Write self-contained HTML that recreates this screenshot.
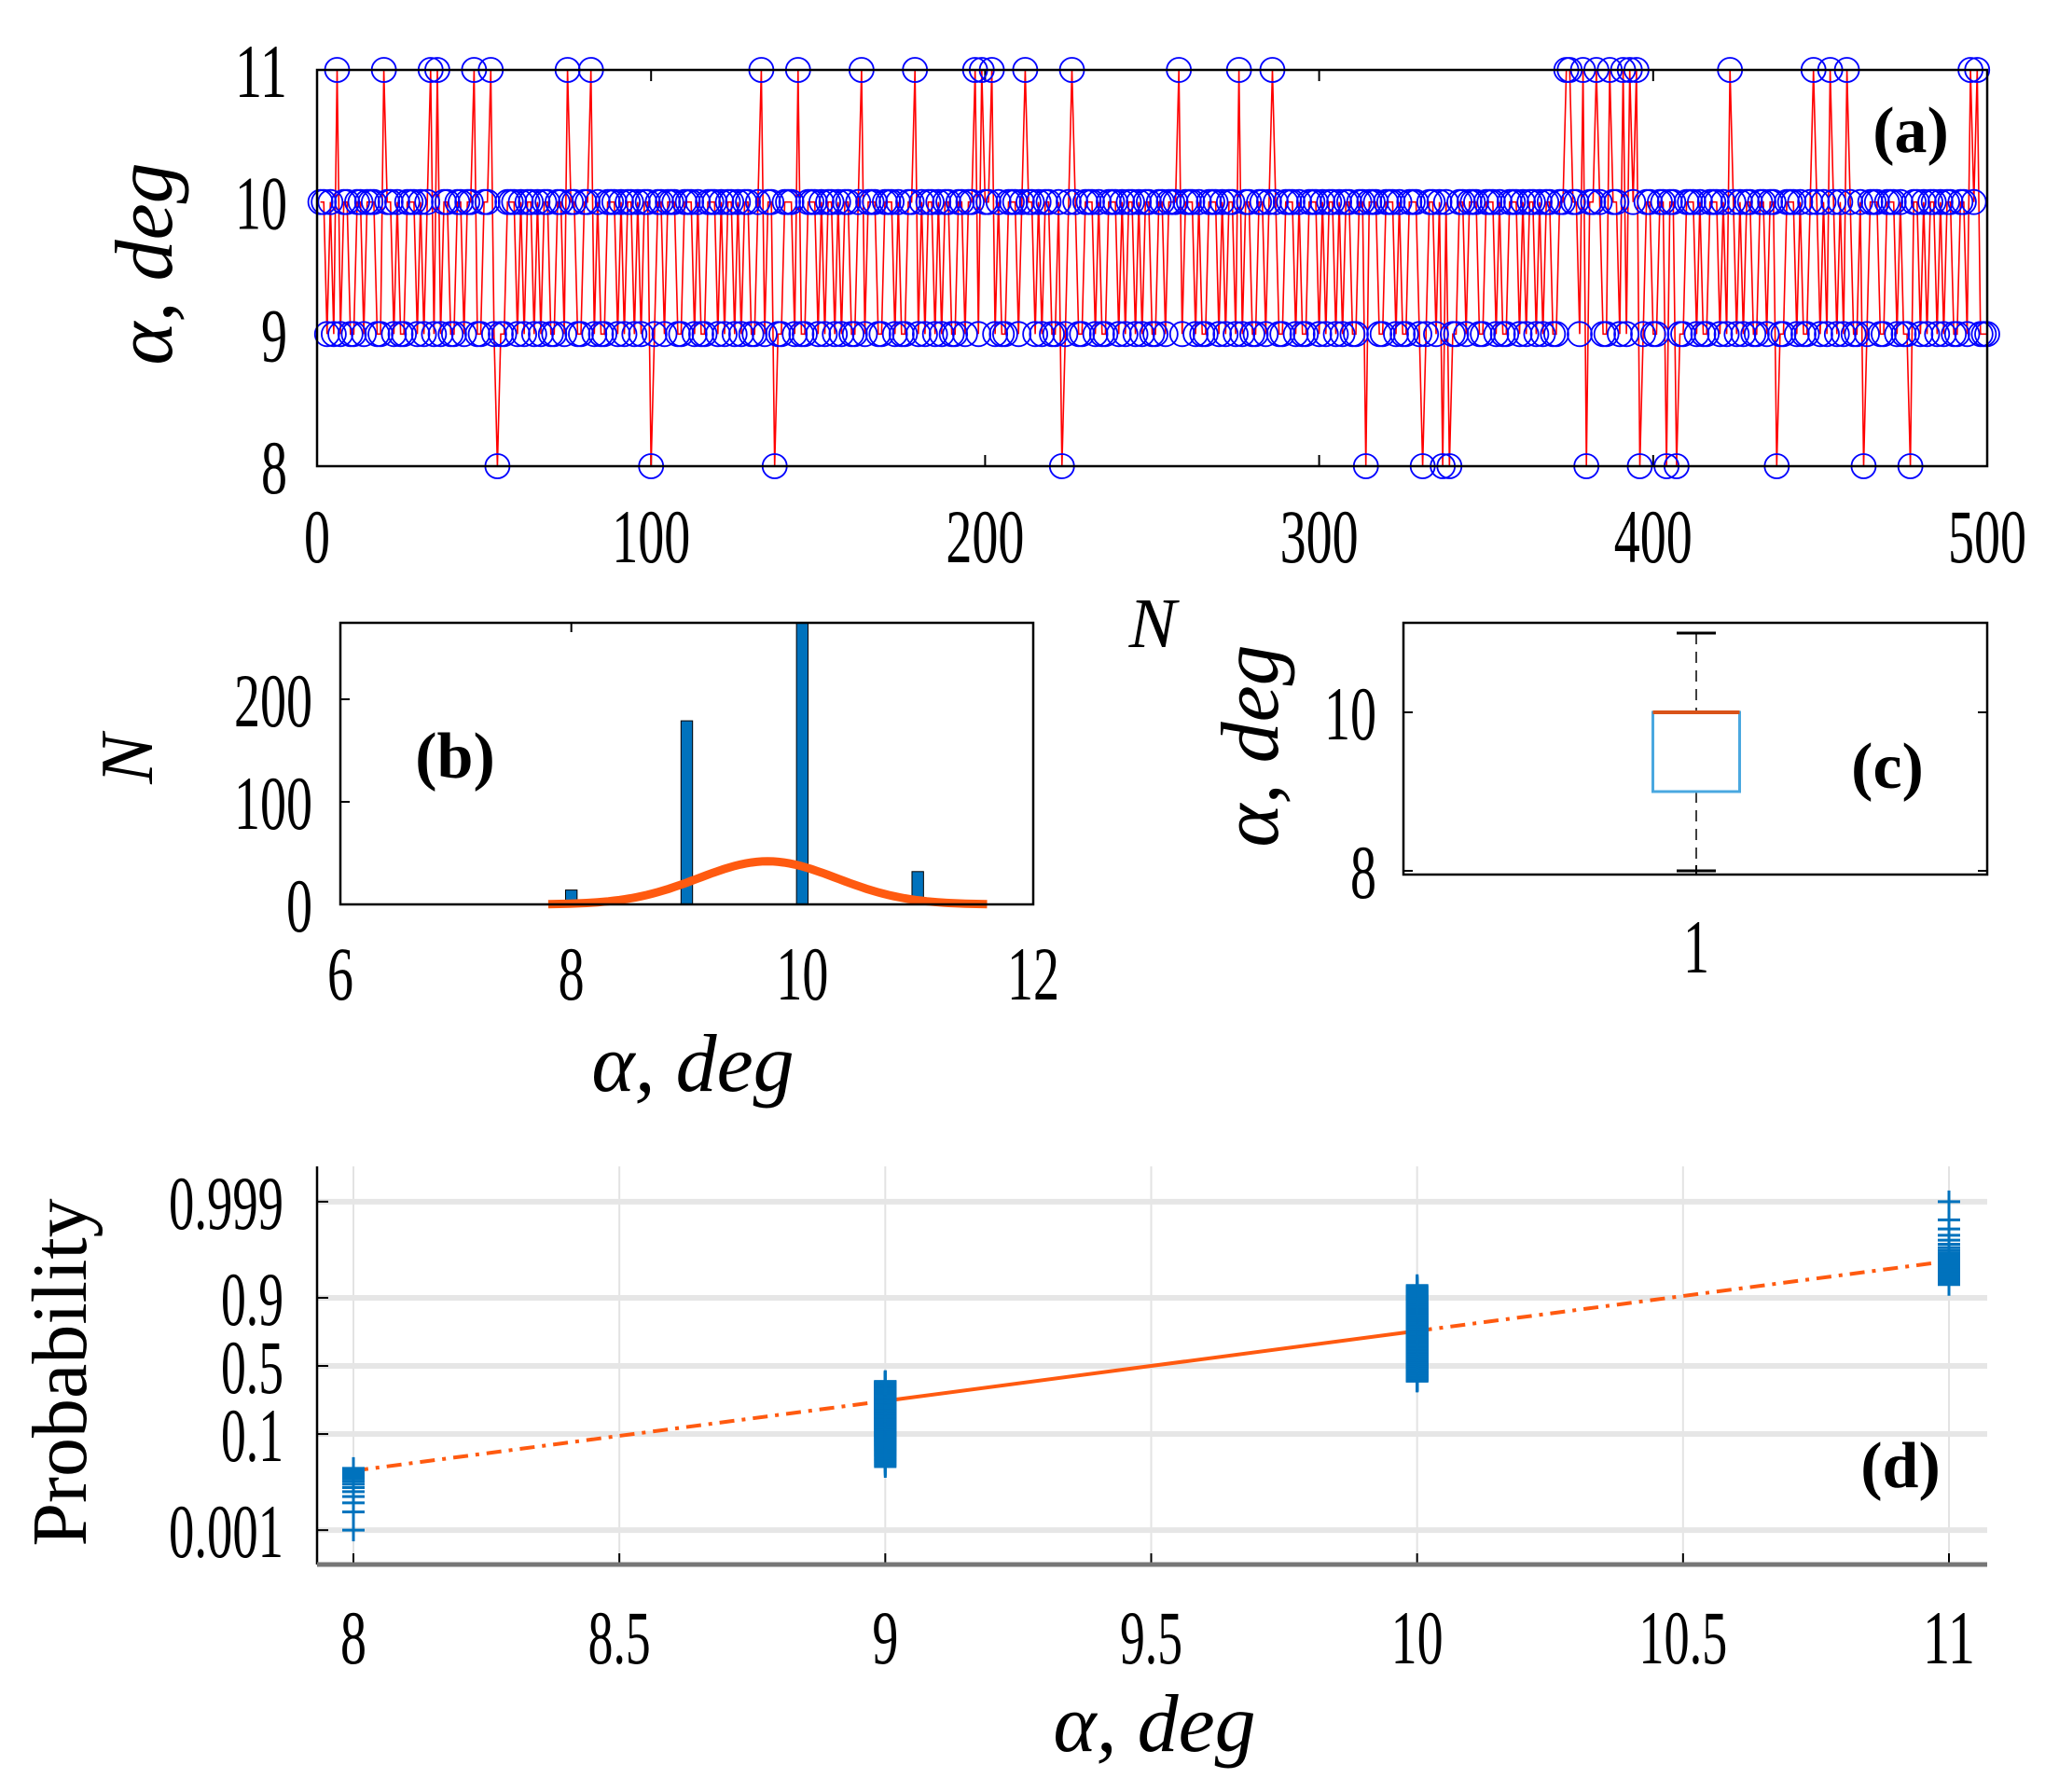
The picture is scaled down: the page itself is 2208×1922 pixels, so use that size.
<!DOCTYPE html>
<html><head><meta charset="utf-8"><style>
html,body{margin:0;padding:0;background:#fff;}
svg{display:block;}
text{font-family:"Liberation Serif",serif;fill:#000;}
</style></head><body>
<svg id="fig" width="2208" height="1922" viewBox="0 0 2208 1922" xmlns="http://www.w3.org/2000/svg"></svg>
<script>
// ---- Panel (a) data: alpha per trial N=1..500
const seriesA = [
10,10,9,10,9,11,9,10,10,9, 9,10,10,9,10,10,10,9,9,11, 10,10,9,10,9,9,10,10,10,9, 10,9,10,11,9,11,9,10,10,9, 9,10,10,9,10,10,11,9,9,10,
10,11,9,8,9,9,10,10,10,9, 10,9,10,10,9,10,9,10,10,9, 9,10,10,9,11,10,10,9,9,10, 10,11,9,10,9,9,10,10,10,9, 10,9,10,10,9,10,9,10,10,8,
9,10,10,9,10,10,10,9,9,10, 10,10,9,10,9,9,10,10,10,9, 10,9,10,10,9,10,9,10,10,9, 9,10,11,9,10,10,8,9,9,10, 10,10,9,11,9,9,10,10,10,9,
10,9,10,10,9,10,9,10,10,9, 9,10,11,9,10,10,10,9,9,10, 10,10,9,10,9,9,10,10,11,9, 10,9,10,10,9,10,9,10,10,9, 9,10,10,9,10,10,11,9,11,10,
10,11,9,10,9,9,10,10,10,9, 10,11,10,10,9,10,9,10,10,9, 9,10,8,9,10,11,10,9,9,10, 10,10,9,10,9,9,10,10,10,9, 10,9,10,10,9,10,9,10,10,9,
9,10,10,9,10,10,10,11,9,10, 10,10,9,10,9,9,10,10,10,9, 10,9,10,10,9,11,9,10,10,9, 9,10,10,9,10,11,10,9,9,10, 10,10,9,10,9,9,10,10,10,9,
10,9,10,10,9,10,9,10,10,9, 9,10,10,8,10,10,10,9,9,10, 10,10,9,10,9,9,10,10,10,9, 8,9,10,10,9,10,8,10,8,9, 9,10,10,9,10,10,10,9,9,10,
10,10,9,10,9,9,10,10,10,9, 10,9,10,10,9,10,9,10,10,9, 9,10,10,11,11,10,10,9,11,8, 10,10,11,10,9,9,11,10,10,9, 11,9,11,10,11,8,9,10,10,9,
9,10,10,8,10,10,8,9,9,10, 10,10,9,10,9,9,10,10,10,9, 10,9,11,10,9,10,9,10,10,9, 9,10,10,9,10,10,8,9,9,10, 10,10,9,10,9,9,10,11,10,9,
10,9,11,10,9,10,9,11,10,9, 9,10,8,9,10,10,10,9,9,10, 10,10,9,10,9,9,8,10,10,9, 10,9,10,10,9,10,9,10,10,9, 9,10,10,9,11,10,11,9,9,9];
const xTicksA = [0,100,200,300,400,500];
const yTicksA = [8,9,10,11];
// ---- Panel (b) histogram
const histBins = [8,9,10,11];
const histCounts = [14,179,275,32];
const xTicksB = [6,8,10,12];
const yTicksB = [0,100,200];
const fitMu = [9.7], fitSigma = [0.6], fitPeak = [42];
// ---- Panel (c) boxplot
const boxStats = [8,9,10,10,11]; // min, q1, median, q3, max
const yTicksC = [8,10];
// ---- Panel (d) probability plot
const probValues = [8,9,10,11];
const probCounts = [14,179,275,32];
const probTickLabels = ["0.001","0.1","0.5","0.9","0.999"];
const probTickP = [0.001,0.1,0.5,0.9,0.999];
const xTicksD = [8,8.5,9,9.5,10,10.5,11];
const fitLineMean = [9.5], fitLineSd = [0.76];

const FS=82, FOFF=29;
const NS="http://www.w3.org/2000/svg";
const svg=document.getElementById('fig');
function el(tag,attrs,parent){const e=document.createElementNS(NS,tag);for(const k in attrs)e.setAttribute(k,attrs[k]);(parent||svg).appendChild(e);return e;}
function txt(s,x,y,size,anchor,parent,opts){opts=opts||{};const t=el('text',{x:x,y:y,'font-size':size,'text-anchor':anchor||'middle'},parent);
 if(opts.italic)t.setAttribute('font-style','italic');if(opts.bold)t.setAttribute('font-weight','bold');
 if(opts.cond){let L=0;for(const c of s)L+=(c==='.'?11:(c===','?11:28));t.setAttribute('textLength',L*(opts.cond));t.setAttribute('lengthAdjust','spacingAndGlyphs');}
 if(opts.rot)t.setAttribute('transform','rotate(-90 '+x+' '+y+')');
 t.textContent=s;return t;}
function norminv(p){
 const a=[-39.6968302866538,220.946098424521,-275.928510446969,138.357751867269,-30.6647980661472,2.50662827745924];
 const b=[-54.4760987982241,161.585836858041,-155.698979859887,66.8013118877197,-13.2806815528857];
 const c=[-0.00778489400243029,-0.322396458041136,-2.40097507325209,-2.54973253934373,4.37466414146497,2.93816398269878];
 const d=[0.00778469570904146,0.32246712907004,2.445134137143,3.75440866190742];
 const pl=0.02425;let q,r;
 if(p<pl){q=Math.sqrt(-2*Math.log(p));return (((((c[0]*q+c[1])*q+c[2])*q+c[3])*q+c[4])*q+c[5])/((((d[0]*q+d[1])*q+d[2])*q+d[3])*q+1);}
 if(p>1-pl){q=Math.sqrt(-2*Math.log(1-p));return -(((((c[0]*q+c[1])*q+c[2])*q+c[3])*q+c[4])*q+c[5])/((((d[0]*q+d[1])*q+d[2])*q+d[3])*q+1);}
 q=p-0.5;r=q*q;return (((((a[0]*r+a[1])*r+a[2])*r+a[3])*r+a[4])*r+a[5])*q/(((((b[0]*r+b[1])*r+b[2])*r+b[3])*r+b[4])*r+1);}

// ================= Panel (a)
(function(){
 const g=el('g',{});
 
 
 const L=340,R=2131,T=75,B=500;
 const x=v=>L+(v-0)/(500-0)*(R-L), y=v=>B-(v-8)/(11-8)*(B-T);
 xTicksA.forEach(v=>{el('line',{x1:x(v),x2:x(v),y1:B,y2:B-12,stroke:'#000','stroke-width':2},g);el('line',{x1:x(v),x2:x(v),y1:T,y2:T+12,stroke:'#000','stroke-width':2},g);
  const t=txt(String(v),x(v),603,FS,'middle',g,{cond:1});});
 yTicksA.forEach(v=>{const t=txt(String(v),308,y(v)+FOFF,FS,'end',g,{cond:1});});
 let d='';seriesA.forEach((v,i)=>{d+=(i?'L':'M')+x(i+1).toFixed(1)+' '+y(v).toFixed(1);});
 const line=el('path',{d:d,fill:'none',stroke:'#ff0000','stroke-width':1.6},g);
 
 
 seriesA.forEach((v,i)=>{const c=el('circle',{cx:x(i+1),cy:y(v),r:13,fill:'none',stroke:'#0000ff','stroke-width':1.8},g);
  
  });
 const box=el('rect',{x:L,y:T,width:R-L,height:B-T,fill:'none',stroke:'#000','stroke-width':2.5},g);
 
 
 const yl=txt('α, deg',184,283,88,'middle',g,{italic:1,rot:1});
 const xl=txt('N',1236,694,76,'middle',g,{italic:1});
 const pl=txt('(a)',2049,163,70,'middle',g,{bold:1});
})();

// ================= Panel (b)
(function(){
 const g=el('g',{});
 
 
 const L=365,R=1108,T=668,B=970;
 const x=v=>L+(v-6)/6*(R-L), y=v=>B-v/100*110;
 xTicksB.forEach(v=>{el('line',{x1:x(v),x2:x(v),y1:B,y2:B-10,stroke:'#000','stroke-width':2},g);el('line',{x1:x(v),x2:x(v),y1:T,y2:T+10,stroke:'#000','stroke-width':2},g);
  const t=txt(String(v),x(v),1072,FS,'middle',g,{cond:1});});
 yTicksB.forEach(v=>{el('line',{x1:L,x2:L+10,y1:y(v),y2:y(v),stroke:'#000','stroke-width':2},g);
  const t=txt(String(v),335,y(v)+FOFF,FS,'end',g,{cond:1});});
 histBins.forEach((b,i)=>{const w=0.1*(R-L)/6;const r=el('rect',{x:x(b)-w/2,y:y(histCounts[i]),width:w,height:B-y(histCounts[i]),fill:'#0072bd',stroke:'#000','stroke-width':1},g);
  
  });
 let d='';for(let k=0;k<=80;k++){const xv=7.8+k*(11.6-7.8)/80;const yv=fitPeak[0]*Math.exp(-Math.pow(xv-fitMu[0],2)/(2*fitSigma[0]*fitSigma[0]));d+=(k?'L':'M')+x(xv).toFixed(1)+' '+y(yv).toFixed(1);}
 const c=el('path',{d:d,fill:'none',stroke:'#ff5a10','stroke-width':9},g);
 
 
 const box=el('rect',{x:L,y:T,width:R-L,height:B-T,fill:'none',stroke:'#000','stroke-width':2.5},g);
 
 
 const yl=txt('N',163,814,80,'middle',g,{italic:1,rot:1});
 const xl=txt('α, deg',743,1170,88,'middle',g,{italic:1});
 const pl=txt('(b)',488,834,70,'middle',g,{bold:1});
})();

// ================= Panel (c)
(function(){
 const g=el('g',{});
 
 
 const L=1505,R=2131,T=668,B=938;
 const y=v=>934-(v-8)*85, xc=1819, w=93, cw=42;
 yTicksC.forEach(v=>{el('line',{x1:L,x2:L+10,y1:y(v),y2:y(v),stroke:'#000','stroke-width':2},g);el('line',{x1:R,x2:R-10,y1:y(v),y2:y(v),stroke:'#000','stroke-width':2},g);
  const t=txt(String(v),1476,y(v)+FOFF,FS,'end',g,{cond:1});});
 el('line',{x1:xc,x2:xc,y1:B,y2:B-10,stroke:'#000','stroke-width':2},g);
 const wh=el('path',{d:'M'+xc+' '+y(boxStats[4])+'L'+xc+' '+y(boxStats[3])+'M'+xc+' '+y(boxStats[1])+'L'+xc+' '+y(boxStats[0]),stroke:'#000','stroke-width':1.5,'stroke-dasharray':'12 8',fill:'none'},g);
 
 
 [boxStats[0],boxStats[4]].forEach(v=>{const cp=el('line',{x1:xc-cw/2,x2:xc+cw/2,y1:y(v),y2:y(v),stroke:'#000','stroke-width':3},g);
  
  });
 const bx=el('rect',{x:xc-w/2,y:y(boxStats[3]),width:w,height:y(boxStats[1])-y(boxStats[3]),fill:'none',stroke:'#4aa8e0','stroke-width':3},g);
 
 
 const md=el('line',{x1:xc-w/2,x2:xc+w/2,y1:y(boxStats[2]),y2:y(boxStats[2]),stroke:'#d95319','stroke-width':4},g);
 
 
 const box=el('rect',{x:L,y:T,width:R-L,height:B-T,fill:'none',stroke:'#000','stroke-width':2.5},g);
 
 
 const t1=txt('1',xc,1043,FS,'middle',g,{cond:1});
 const yl=txt('α, deg',1370,800,88,'middle',g,{italic:1,rot:1});
 const pl=txt('(c)',2024,845,70,'middle',g,{bold:1});
})();

// ================= Panel (d)
(function(){
 const g=el('g',{});
 
 
 const L=340,R=2131,T=1251,B=1678;
 const x=v=>379+(v-8)/3*(2090-379), yz=z=>1465-57*z;
 xTicksD.forEach(v=>{const gl=el('line',{x1:x(v),x2:x(v),y1:T,y2:B,stroke:'#e3e3e3','stroke-width':2},g);
  
  
  el('line',{x1:x(v),x2:x(v),y1:B,y2:B-12,stroke:'#000','stroke-width':2},g);
  const t=txt(String(v),x(v),1784,FS,'middle',g,{cond:1});});
 probTickP.forEach((p,i)=>{const yy=yz(norminv(p));const gl=el('line',{x1:L,x2:R,y1:yy,y2:yy,stroke:'#e6e6e6','stroke-width':6},g);
  
  
  el('line',{x1:L,x2:L+12,y1:yy,y2:yy,stroke:'#000','stroke-width':2},g);
  const t=txt(probTickLabels[i],304,yy+FOFF,FS,'end',g,{cond:1});});
 const fz=v=>(v-fitLineMean[0])/fitLineSd[0];
 const seg=(a,b,dash)=>{const s=el('line',{x1:x(a),y1:yz(fz(a)),x2:x(b),y2:yz(fz(b)),stroke:'#ff5a10','stroke-width':4},g);if(dash)s.setAttribute('stroke-dasharray','16 8 4 8');
  
  };
 seg(8,9,true);seg(9,10,false);seg(10,11,true);
 const n=probCounts.reduce((a,b)=>a+b,0);let idx=0;
 probValues.forEach((v,k)=>{for(let j=0;j<probCounts[k];j++){idx++;const z=norminv((idx-0.5)/n);const yy=yz(z),xx=x(v);
  const m=el('path',{d:'M'+(xx-12)+' '+yy+'H'+(xx+12)+'M'+xx+' '+(yy-12)+'V'+(yy+12),stroke:'#0072bd','stroke-width':3,fill:'none'},g);
  
  }});
 el('line',{x1:L,x2:L,y1:T,y2:B,stroke:'#000','stroke-width':2.5},g);
 el('line',{x1:L,x2:R,y1:B,y2:B,stroke:'#777','stroke-width':5},g);
 const yl=txt('Probability',92,1472,84,'middle',g,{rot:1});
 const xl=txt('α, deg',1238,1878,88,'middle',g,{italic:1});
 const pl=txt('(d)',2038,1595,70,'middle',g,{bold:1});
})();
</script>
</body></html>
